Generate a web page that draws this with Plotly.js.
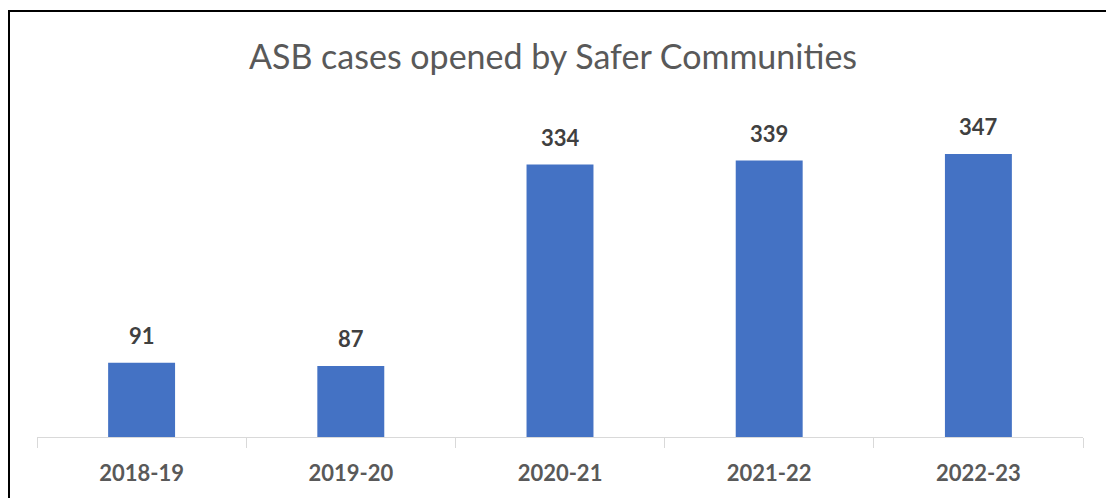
<!DOCTYPE html>
<html>
<head>
<meta charset="utf-8">
<script src="https://cdn.plot.ly/plotly-3.0.1.min.js"></script>
<style>
html,body{margin:0;padding:0;background:#fff;}
#wrap{position:relative;width:1106px;height:498px;overflow:hidden;}
#chart{width:1106px;height:498px;}
#frame{position:absolute;left:8px;top:10px;width:1110px;height:500px;border:2px solid #000;box-sizing:border-box;pointer-events:none;}
</style>
</head>
<body>
<div id="wrap"><div id="chart"></div><div id="frame"></div></div>
<script>
const categories = ["2018-19", "2019-20", "2020-21", "2021-22", "2022-23"];
const cases = [91, 87, 334, 339, 347];
const titleText = "ASB cases opened by Safer Communities";

const font = "Lato, 'Open Sans', sans-serif";

const trace = {
  type: "bar",
  x: categories,
  y: cases,
  marker: {color: "#4472C4"},
  width: 0.32,
  hoverinfo: "none"
};

const annotations = categories.map((c, i) => ({
  x: c, y: cases[i], xref: "x", yref: "y",
  text: "<b>" + cases[i] + "</b>",
  showarrow: false, yanchor: "bottom", yshift: 12,
  font: {family: font, size: 22, color: "#404040"}
}));

const layout = {
  width: 1106, height: 498,
  margin: {l: 37, r: 23, t: 100, b: 61},
  paper_bgcolor: "#fff", plot_bgcolor: "#fff",
  showlegend: false,
  title: {text: titleText, x: 0.5, xanchor: "center", y: 0.885, yanchor: "middle",
          font: {family: font, size: 34, color: "#595959"}},
  xaxis: {
    type: "category",
    showline: true, linecolor: "#d9d9d9", linewidth: 1,
    ticks: "outside", tickson: "boundaries", ticklen: 10, tickcolor: "#d9d9d9",
    showgrid: false, zeroline: false,
    tickfont: {family: font, size: 22, color: "#595959", weight: "bold"},
    ticklabelstandoff: 17
  },
  yaxis: {
    range: [0, 413.2], visible: false, showgrid: false, zeroline: false
  },
  annotations: annotations
};

Plotly.newPlot("chart", [trace], layout, {displayModeBar: false, staticPlot: true});
</script>
</body>
</html>
